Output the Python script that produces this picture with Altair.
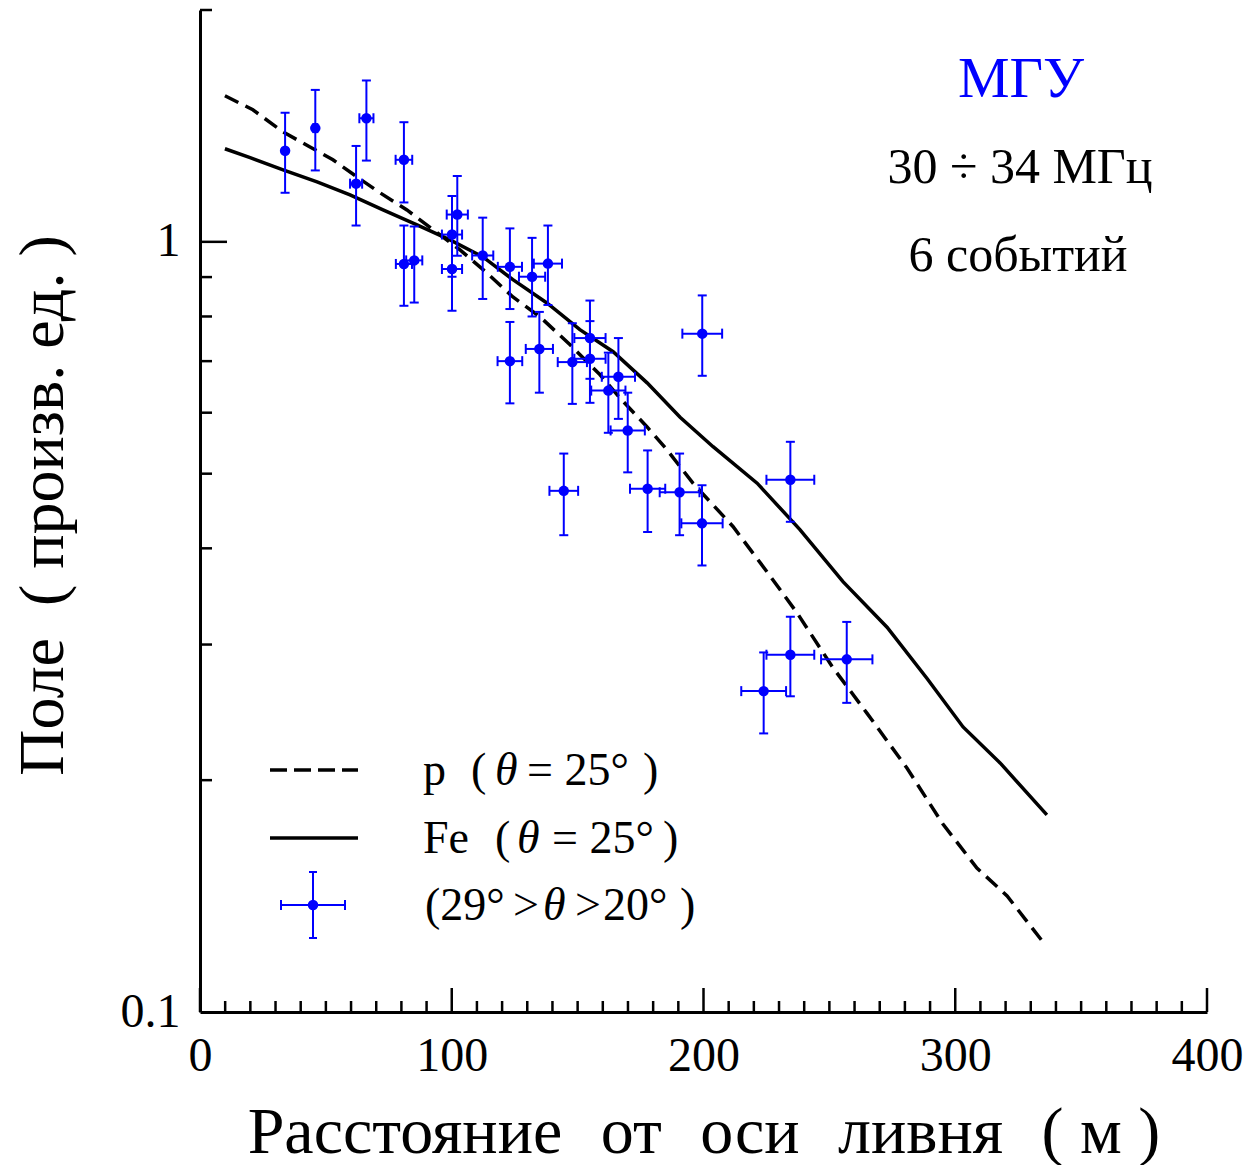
import altair as alt
import pandas as pd

# ---------------- data ----------------
dist = [33.8, 45.8, 66.1, 62.0, 81.0, 81.0, 85.1, 100.1, 102.2, 100.1, 112.3, 123.1, 131.9, 138.2,
        123.1, 134.8, 147.9, 154.9, 154.9, 166.2, 162.2, 169.9, 199.5,
        144.5, 177.8, 190.5, 199.4, 234.5, 234.5, 223.9, 256.9]
field = [1.313, 1.405, 1.447, 1.190, 1.278, 0.936, 0.946, 1.022, 1.085, 0.922, 0.960, 0.928, 0.901, 0.937,
         0.700, 0.726, 0.698, 0.750, 0.705, 0.668, 0.641, 0.569, 0.760,
         0.475, 0.478, 0.473, 0.431, 0.491, 0.291, 0.261, 0.287]
field_hi = [1.471, 1.575, 1.620, 1.332, 1.430, 1.050, 1.047, 1.147, 1.218, 1.021, 1.075, 1.041, 1.012, 1.050,
            0.787, 0.811, 0.784, 0.839, 0.789, 0.750, 0.718, 0.637, 0.852,
            0.531, 0.536, 0.531, 0.483, 0.550, 0.326, 0.293, 0.321]
field_lo = [1.158, 1.238, 1.275, 1.050, 1.125, 0.826, 0.834, 0.901, 0.959, 0.814, 0.843, 0.818, 0.800, 0.828,
            0.617, 0.637, 0.616, 0.664, 0.618, 0.589, 0.565, 0.502, 0.670,
            0.416, 0.420, 0.416, 0.380, 0.433, 0.257, 0.230, 0.252]
dist_err = [0.0, 0.8, 2.8, 2.4, 3.3, 3.2, 3.2, 4.0, 4.2, 4.0, 4.2, 4.8, 5.2, 5.6,
            4.9, 5.4, 5.8, 6.2, 6.2, 6.6, 6.8, 6.8, 7.9,
            5.7, 7.0, 7.9, 8.2, 9.5, 9.5, 8.9, 10.2]

p_dist = [9.9, 21.0, 33.0, 43.7, 52.8, 62.4, 71.5, 82.2, 92.6, 103.3, 114.0, 124.3, 135.1, 147.0,
          158.9, 166.8, 177.6, 185.5, 195.8, 211.7, 225.2, 237.1, 251.4, 264.9, 280.8, 295.1,
          308.6, 320.6, 334.5]
p_field = [1.548, 1.484, 1.389, 1.328, 1.278, 1.214, 1.158, 1.100, 1.037, 0.976, 0.911, 0.848, 0.799, 0.735,
           0.672, 0.627, 0.575, 0.537, 0.486, 0.427, 0.373, 0.330, 0.280, 0.2444, 0.2074, 0.1754,
           0.1538, 0.1415, 0.1237]

fe_dist = [9.9, 19.9, 33.0, 46.5, 59.6, 72.7, 86.2, 99.3, 112.4, 124.3, 137.8, 150.9, 164.1, 177.6,
           190.7, 203.8, 221.3, 238.3, 255.4, 272.9, 288.8, 303.1, 317.8, 336.4]
fe_field = [1.321, 1.286, 1.240, 1.196, 1.151, 1.100, 1.052, 1.006, 0.956, 0.893, 0.833, 0.769, 0.720, 0.656,
            0.592, 0.542, 0.486, 0.423, 0.362, 0.316, 0.271, 0.2345, 0.2106, 0.1803]

x_major = [0, 100, 200, 300, 400]
x_minor = [v for v in range(10, 400, 10) if v % 100 != 0]
y_major = [1]
y_minor = [0.2, 0.3, 0.4, 0.5, 0.6, 0.7, 0.8, 0.9, 2]

# ---------------- tables ----------------
pts = pd.DataFrame({"d": dist, "f": field, "fhi": field_hi, "flo": field_lo})
pts["dlo"] = [a - b for a, b in zip(dist, dist_err)]
pts["dhi"] = [a + b for a, b in zip(dist, dist_err)]
curve_p = pd.DataFrame({"d": p_dist, "f": p_field})
curve_fe = pd.DataFrame({"d": fe_dist, "f": fe_field})

FONT = "Liberation Serif"
BLUE = "#0000ff"
W, H = 1007, 1002
GAP = "\u00a0\u00a0\u200a"

xs = alt.Scale(domain=[0, 400], nice=False, zero=False)
ys = alt.Scale(type="log", domain=[0.1, 2], nice=False)

x_axis = alt.Axis(values=x_major, ticks=False, grid=False, domain=True, domainColor="black",
                  domainWidth=3, labelFont=FONT, labelFontSize=48, labelColor="black",
                  labelPadding=20, labelFlush=False, labelOverlap=False,
                  title=f"Расстояние{GAP}от{GAP}оси{GAP}ливня{GAP}( м )",
                  titleFont=FONT, titleFontSize=66, titleFontWeight="normal", titleColor="black",
                  titleBaseline="alphabetic", titleY=140, titleX=W / 2, titleAlign="center")
y_axis = alt.Axis(values=[0.1, 1], ticks=False, grid=False, domain=True, domainColor="black",
                  domainWidth=3, labelFont=FONT, labelFontSize=48, labelColor="black",
                  labelPadding=20, labelFlush=False, labelOverlap=False,
                  labelExpr="datum.value < 0.5 ? '0.1' : '1'",
                  title="Поле\u00a0 ( произв. ед. )", titleFont=FONT, titleFontSize=64,
                  titleFontWeight="normal", titleColor="black", titleAngle=270,
                  titleBaseline="alphabetic", titleX=-138, titleY=495, titleAlign="center")


def X(field_name):
    return alt.X(field_name, type="quantitative", scale=xs, axis=x_axis)


def Y(field_name):
    return alt.Y(field_name, type="quantitative", scale=ys, axis=y_axis)


line_p = alt.Chart(curve_p).mark_line(color="black", strokeWidth=3.5, strokeDash=[15, 8]).encode(
    x=X("d"), y=Y("f"))
line_fe = alt.Chart(curve_fe).mark_line(color="black", strokeWidth=3.5).encode(
    x=X("d"), y=Y("f"))

pbase = alt.Chart(pts)
vbar = pbase.mark_rule(color=BLUE, strokeWidth=2).encode(x=X("d"), y=Y("flo"), y2="fhi:Q")
hbar = pbase.mark_rule(color=BLUE, strokeWidth=2).encode(x=X("dlo"), x2="dhi:Q", y=Y("f"))
cap_hi = pbase.mark_tick(color=BLUE, orient="horizontal", size=9, thickness=2, opacity=1).encode(
    x=X("d"), y=Y("fhi"))
cap_lo = pbase.mark_tick(color=BLUE, orient="horizontal", size=9, thickness=2, opacity=1).encode(
    x=X("d"), y=Y("flo"))
cap_l = pbase.mark_tick(color=BLUE, orient="vertical", size=10, thickness=2, opacity=1).encode(
    x=X("dlo"), y=Y("f"))
cap_r = pbase.mark_tick(color=BLUE, orient="vertical", size=10, thickness=2, opacity=1).encode(
    x=X("dhi"), y=Y("f"))
dots = pbase.mark_circle(color=BLUE, size=110, opacity=1).encode(x=X("d"), y=Y("f"))


# inward axis ticks
def xticks(vals, length):
    return alt.Chart(pd.DataFrame({"v": vals})).mark_rule(color="black", strokeWidth=2.5).encode(
        x=X("v"), y=alt.value(H), y2=alt.value(H - length))


def yticks(vals, length):
    return alt.Chart(pd.DataFrame({"v": vals})).mark_rule(color="black", strokeWidth=2.5).encode(
        y=Y("v"), x=alt.value(0), x2=alt.value(length))


# text helper
def txt(s, x, y, size=46, italic=False, color="black", align="left"):
    return alt.Chart(pd.DataFrame({"t": [s]})).mark_text(
        font=FONT, fontSize=size, fontStyle="italic" if italic else "normal",
        color=color, align=align, baseline="alphabetic").encode(
        x=alt.value(x), y=alt.value(y), text="t:N")


def hrule(x1, x2, y, color="black", width=3.5, dash=None):
    kw = dict(color=color, strokeWidth=width)
    if dash:
        kw["strokeDash"] = dash
    return alt.Chart(pd.DataFrame({"a": [0]})).mark_rule(**kw).encode(
        x=alt.value(x1), x2=alt.value(x2), y=alt.value(y))


def vrule(x, y1, y2, color="black", width=2):
    return alt.Chart(pd.DataFrame({"a": [0]})).mark_rule(color=color, strokeWidth=width).encode(
        x=alt.value(x), y=alt.value(y1), y2=alt.value(y2))


legend = [
    hrule(70, 158, 760, dash=[17, 7]),
    hrule(70, 158, 828),
    vrule(113, 862, 928, color=BLUE),
    hrule(81, 145, 895, color=BLUE, width=2),
    hrule(109, 117, 862, color=BLUE, width=2),
    hrule(109, 117, 928, color=BLUE, width=2),
    vrule(81, 890, 900, color=BLUE),
    vrule(145, 890, 900, color=BLUE),
    alt.Chart(pd.DataFrame({"a": [0]})).mark_circle(color=BLUE, size=110, opacity=1).encode(
        x=alt.value(113), y=alt.value(895)),
    txt("p", 223, 775), txt("(", 271, 775), txt("θ", 295, 775, italic=True),
    txt("= 25°", 327, 775), txt(")", 443, 775),
    txt("Fe", 223, 843), txt("(", 295, 843), txt("θ", 317, 843, italic=True),
    txt("= 25°", 352, 843), txt(")", 463, 843),
    txt("(29°", 225, 910), txt(">", 313, 910), txt("θ", 343, 910, italic=True),
    txt(">", 375, 910), txt("20°", 403, 910), txt(")", 480, 910),
]

notes = [
    txt("МГУ", 821, 87, size=58, color=BLUE, align="center"),
    txt("30 ÷ 34 МГц", 820, 173, size=50, align="center"),
    txt("6 событий", 818, 261, size=50, align="center"),
]

chart = alt.layer(
    line_p, line_fe,
    xticks(x_major, 24), xticks(x_minor, 11),
    yticks(y_major, 27), yticks(y_minor, 12),
    vbar, hbar, cap_hi, cap_lo, cap_l, cap_r, dots,
    *legend, *notes,
).properties(
    width=W, height=H,
    autosize=alt.AutoSizeParams(type="none"),
    padding={"left": 200, "top": 10, "right": 40, "bottom": 153},
    background="white",
).configure_view(stroke=None)

chart.save("out.html", embed_options={"renderer": "svg", "actions": False})
